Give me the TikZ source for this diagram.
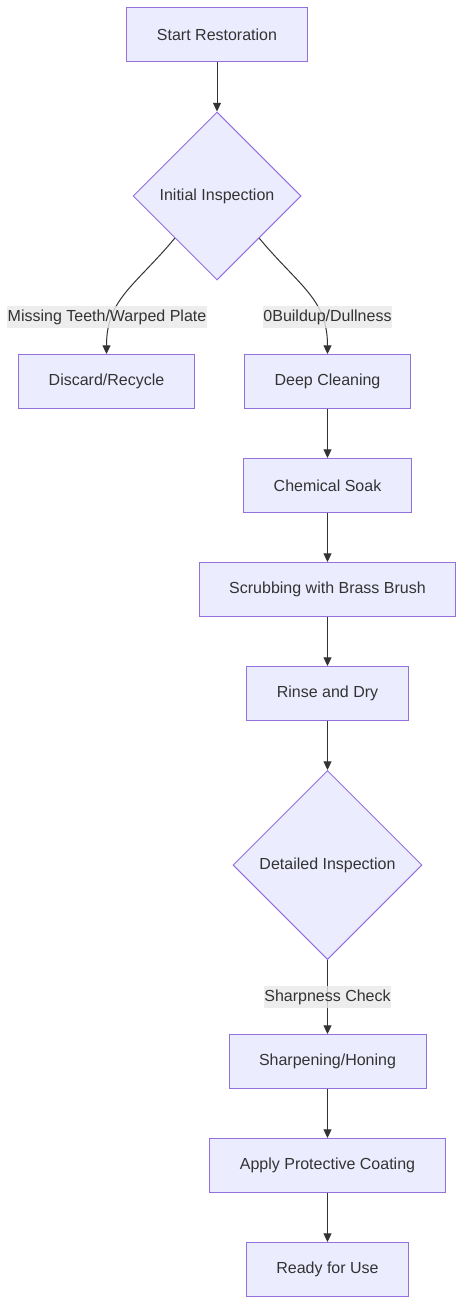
\documentclass[tikz,border=0pt]{standalone}
\usepackage{fontspec}
\setmainfont{Liberation Sans}
\usetikzlibrary{shapes.geometric,arrows.meta}
\definecolor{boxfill}{HTML}{ECECFF}
\definecolor{boxline}{HTML}{9370DB}
\definecolor{ink}{HTML}{333333}
\definecolor{labelbg}{HTML}{E8E8E8}

\begin{document}
\begin{tikzpicture}[x=0.75pt,y=-0.75pt,
    font=\fontsize{12}{14}\selectfont, text=ink,
    stepbox/.style={draw=boxline,fill=boxfill,line width=0.75pt,
        minimum height=40.5pt,inner xsep=22.5pt},
    decision/.style={diamond,aspect=1,draw=boxline,fill=boxfill,
        line width=0.75pt,inner sep=0pt},
    arr/.style={draw=ink,line width=0.75pt,-{Triangle[length=6.5pt,width=6pt]}},
    edgelabel/.style={fill=labelbg,fill opacity=0.8,text opacity=1,
        inner xsep=0.5pt,inner ysep=0pt,minimum height=16.5pt}]
    \useasboundingbox (0,0) rectangle (464,1305);

    % steps
    \node[stepbox] (start) at (217,35) {Start Restoration};
    \node[decision,minimum size=126pt] (init) at (217,196) {Initial Inspection};
    \node[stepbox] (discard) at (106.5,381.5) {Discard/Recycle};
    \node[stepbox] (deep) at (327.5,381.5) {Deep Cleaning};
    \node[stepbox] (soak) at (327.5,485.5) {Chemical Soak};
    \node[stepbox] (scrub) at (327.5,589.5) {Scrubbing with Brass Brush};
    \node[stepbox] (rinse) at (327.5,693.5) {Rinse and Dry};
    \node[decision,minimum size=141.75pt] (detail) at (327.5,865) {Detailed Inspection};
    \node[stepbox] (sharp) at (327.5,1061.5) {Sharpening/Honing};
    \node[stepbox] (coat) at (327.5,1165.5) {Apply Protective Coating};
    \node[stepbox] (ready) at (327.5,1269.5) {Ready for Use};

    % connectors
    \draw[arr] (start) -- (init);
    \draw[arr] (init.south west) .. controls +(-40,48) and +(0,-55) .. (discard.north);
    \draw[arr] (init.south east) .. controls +(40,48) and +(0,-55) .. (deep.north);
    \node[edgelabel] (lblbad) at (107,317) {Missing Teeth/Warped Plate};
    \node[edgelabel] (lblgood) at (327.5,317) {0Buildup/Dullness};
    \draw[arr] (deep) -- (soak);
    \draw[arr] (soak) -- (scrub);
    \draw[arr] (scrub) -- (rinse);
    \draw[arr] (rinse) -- (detail);
    \draw[arr] (detail) -- node[edgelabel] (lblsharp) {Sharpness Check} (sharp);
    \draw[arr] (sharp) -- (coat);
    \draw[arr] (coat) -- (ready);

\end{tikzpicture}
\end{document}
